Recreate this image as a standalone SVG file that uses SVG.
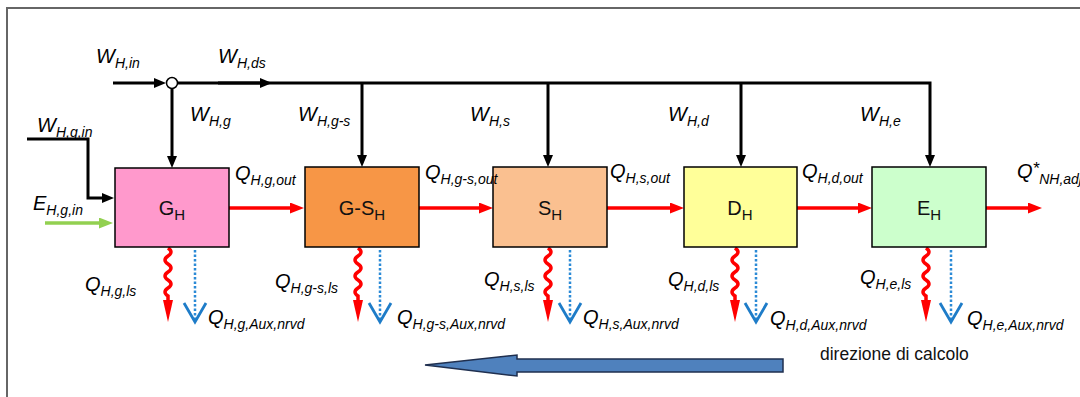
<svg xmlns="http://www.w3.org/2000/svg" width="1080" height="397" viewBox="0 0 1080 397">
<style>
.lab{font-family:"Liberation Sans",Arial,sans-serif;font-style:italic;font-size:20px;fill:#000}
.sub{font-size:14px}
.box{stroke:#000;stroke-width:1.5}
.blab{font-family:"Liberation Sans",Arial,sans-serif;font-size:20px;fill:#111}
.bsub{font-size:15px}
.bk{stroke:#000;stroke-width:3;fill:none}
.rd{stroke:#f00;stroke-width:3.5;fill:none}
.wv{stroke:#f00;stroke-width:3.5;fill:none}
.dt{stroke:#2b8ad6;stroke-width:2.5;stroke-dasharray:2.5 2;fill:none}
.frame{stroke:#666;stroke-width:2;fill:none}
.plain{font-family:"Liberation Sans",Arial,sans-serif;font-size:17.5px;fill:#111}
</style>
<defs>
<marker id="ak" markerUnits="userSpaceOnUse" markerWidth="12" markerHeight="10" refX="2" refY="5" orient="auto"><path d="M0,0 L12,5 L0,10 z" fill="#000"/></marker>
<marker id="ar" markerUnits="userSpaceOnUse" markerWidth="14" markerHeight="11" refX="2" refY="5.5" orient="auto"><path d="M0,0 L14,5.5 L0,11 z" fill="#f00"/></marker>
<marker id="ag" markerUnits="userSpaceOnUse" markerWidth="14" markerHeight="11" refX="2" refY="5.5" orient="auto"><path d="M0,0 L14,5.5 L0,11 z" fill="#92d050"/></marker>
<marker id="aw" markerUnits="userSpaceOnUse" markerWidth="22" markerHeight="10" refX="1" refY="5" orient="auto"><path d="M0,0 L22,5 L0,10 z" fill="#f00"/></marker>
<marker id="av" markerUnits="userSpaceOnUse" markerWidth="22" markerHeight="24" refX="19" refY="11" orient="auto" overflow="visible"><path d="M0,0 L19,11 L0,22" fill="none" stroke="#1e7cc8" stroke-width="2.8"/></marker>
</defs>
<rect width="1080" height="397" fill="#fff"/>
<path class="frame" d="M7,397 V8 H1080"/>

<g id="connectors">
  <line class="bk" x1="113" y1="83" x2="156" y2="83" marker-end="url(#ak)"/>
  <path class="bk" d="M177.5,83 H930 V157" marker-end="url(#ak)"/>
  <line class="bk" x1="218" y1="83" x2="262" y2="83" stroke-width="4" marker-end="url(#ak)"/>
  <line class="bk" x1="172" y1="88.5" x2="172" y2="158" marker-end="url(#ak)"/>
  <line class="bk" x1="362" y1="83" x2="362" y2="157" marker-end="url(#ak)"/>
  <line class="bk" x1="548" y1="83" x2="548" y2="157" marker-end="url(#ak)"/>
  <line class="bk" x1="741" y1="83" x2="741" y2="157" marker-end="url(#ak)"/>
  <path class="bk" d="M27,139 H88 V198 H104" marker-end="url(#ak)"/>
  <line x1="45" y1="223" x2="101" y2="223" stroke="#92d050" stroke-width="3.5" marker-end="url(#ag)"/>
  <line class="rd" x1="229" y1="208" x2="292" y2="208" marker-end="url(#ar)"/>
  <line class="rd" x1="419" y1="208" x2="481" y2="208" marker-end="url(#ar)"/>
  <line class="rd" x1="607" y1="208" x2="672" y2="208" marker-end="url(#ar)"/>
  <line class="rd" x1="797" y1="208" x2="860" y2="208" marker-end="url(#ar)"/>
  <line class="rd" x1="986" y1="208" x2="1030" y2="208" marker-end="url(#ar)"/>
  <path class="wv" d="M168,248 q6,4 0,8 q-6,4 0,8 q6,4 0,8 q-6,4 0,8 q6,4 0,8 q-6,4 0,8 l0,5" marker-end="url(#aw)"/>
  <path class="wv" d="M358,248 q6,4 0,8 q-6,4 0,8 q6,4 0,8 q-6,4 0,8 q6,4 0,8 q-6,4 0,8 l0,5" marker-end="url(#aw)"/>
  <path class="wv" d="M548,248 q6,4 0,8 q-6,4 0,8 q6,4 0,8 q-6,4 0,8 q6,4 0,8 q-6,4 0,8 l0,5" marker-end="url(#aw)"/>
  <path class="wv" d="M735,248 q6,4 0,8 q-6,4 0,8 q6,4 0,8 q-6,4 0,8 q6,4 0,8 q-6,4 0,8 l0,5" marker-end="url(#aw)"/>
  <path class="wv" d="M926,248 q6,4 0,8 q-6,4 0,8 q6,4 0,8 q-6,4 0,8 q6,4 0,8 q-6,4 0,8 l0,5" marker-end="url(#aw)"/>
  <line class="dt" x1="195" y1="250" x2="195" y2="322" marker-end="url(#av)"/>
  <line class="dt" x1="380" y1="250" x2="380" y2="322" marker-end="url(#av)"/>
  <line class="dt" x1="570" y1="250" x2="570" y2="322" marker-end="url(#av)"/>
  <line class="dt" x1="756" y1="250" x2="756" y2="322" marker-end="url(#av)"/>
  <line class="dt" x1="951" y1="250" x2="951" y2="322" marker-end="url(#av)"/>
</g>

<g id="junction"><circle cx="172" cy="83" r="5.5" fill="#fff" stroke="#000" stroke-width="1.5"/></g>

<g id="node-G"><rect class="box" x="115" y="168" width="114" height="79" fill="#ff99cc"/><text class="blab" x="172" y="215" text-anchor="middle">G<tspan class="bsub" dy="5">H</tspan></text></g>
<g id="node-GS"><rect class="box" x="305" y="167" width="114" height="80" fill="#f79646"/><text class="blab" x="362" y="215" text-anchor="middle">G-S<tspan class="bsub" dy="5">H</tspan></text></g>
<g id="node-S"><rect class="box" x="493" y="167" width="114" height="80" fill="#fac090"/><text class="blab" x="550" y="215" text-anchor="middle">S<tspan class="bsub" dy="5">H</tspan></text></g>
<g id="node-D"><rect class="box" x="684" y="167" width="113" height="80" fill="#ffff99"/><text class="blab" x="740" y="215" text-anchor="middle">D<tspan class="bsub" dy="5">H</tspan></text></g>
<g id="node-E"><rect class="box" x="872" y="167" width="114" height="80" fill="#ccffcc"/><text class="blab" x="929" y="215" text-anchor="middle">E<tspan class="bsub" dy="5">H</tspan></text></g>

<g id="labels">
  <text class="lab" x="96" y="63">W<tspan class="sub" dy="5">H,in</tspan></text>
  <text class="lab" x="218" y="63">W<tspan class="sub" dy="5">H,ds</tspan></text>
  <text class="lab" x="190" y="121">W<tspan class="sub" dy="5">H,g</tspan></text>
  <text class="lab" x="37" y="132">W<tspan class="sub" dy="5">H,g,in</tspan></text>
  <text class="lab" x="33" y="210">E<tspan class="sub" dy="5">H,g,in</tspan></text>
  <text class="lab" x="298" y="121">W<tspan class="sub" dy="5">H,g-s</tspan></text>
  <text class="lab" x="470" y="121">W<tspan class="sub" dy="5">H,s</tspan></text>
  <text class="lab" x="668" y="121">W<tspan class="sub" dy="5">H,d</tspan></text>
  <text class="lab" x="860" y="121">W<tspan class="sub" dy="5">H,e</tspan></text>

  <text class="lab" x="235" y="180">Q<tspan class="sub" dy="5">H,g,out</tspan></text>
  <text class="lab" x="425" y="179">Q<tspan class="sub" dy="5">H,g-s,out</tspan></text>
  <text class="lab" x="610" y="178">Q<tspan class="sub" dy="5">H,s,out</tspan></text>
  <text class="lab" x="802" y="178">Q<tspan class="sub" dy="5">H,d,out</tspan></text>
  <text class="lab" x="1017" y="178">Q<tspan font-size="17" dy="-4">*</tspan><tspan class="sub" dy="10">NH,adj</tspan></text>

  <text class="lab" x="85" y="291">Q<tspan class="sub" dy="5">H,g,ls</tspan></text>
  <text class="lab" x="275" y="288">Q<tspan class="sub" dy="5">H,g-s,ls</tspan></text>
  <text class="lab" x="484" y="286">Q<tspan class="sub" dy="5">H,s,ls</tspan></text>
  <text class="lab" x="668" y="286">Q<tspan class="sub" dy="5">H,d,ls</tspan></text>
  <text class="lab" x="860" y="284">Q<tspan class="sub" dy="5">H,e,ls</tspan></text>

  <text class="lab" x="208" y="324">Q<tspan class="sub" dy="5">H,g,Aux,nrvd</tspan></text>
  <text class="lab" x="397" y="324">Q<tspan class="sub" dy="5">H,g-s,Aux,nrvd</tspan></text>
  <text class="lab" x="583" y="324">Q<tspan class="sub" dy="5">H,s,Aux,nrvd</tspan></text>
  <text class="lab" x="770" y="325">Q<tspan class="sub" dy="5">H,d,Aux,nrvd</tspan></text>
  <text class="lab" x="967" y="325">Q<tspan class="sub" dy="5">H,e,Aux,nrvd</tspan></text>
</g>

<g id="direction">
  <polygon points="425,365 517,355 517,359 783,359 783,372 517,372 517,376" fill="#4f81bd" stroke="#1f2f4f" stroke-width="1.5" stroke-linejoin="miter"/>
  <text class="plain" x="820" y="360">direzione di calcolo</text>
</g>
</svg>
